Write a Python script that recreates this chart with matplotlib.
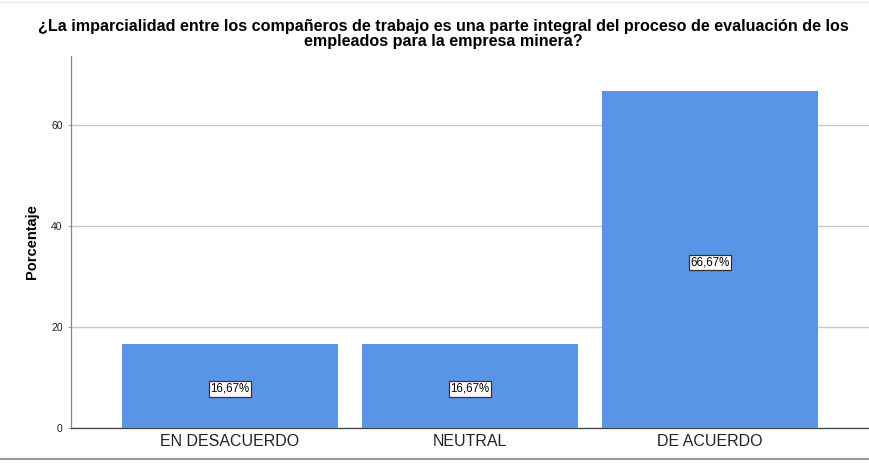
import matplotlib
matplotlib.use("Agg")
import matplotlib.pyplot as plt
from matplotlib.lines import Line2D

plt.rcParams['font.family'] = ['Liberation Sans', 'DejaVu Sans']

# datos del grafico
categorias = ["EN DESACUERDO", "NEUTRAL", "DE ACUERDO"]
porcentajes = [16.67, 16.67, 66.67]
etiquetas = ["16,67%", "16,67%", "66,67%"]
titulo = ("¿La imparcialidad entre los compañeros de trabajo es una parte integral del proceso de evaluación de los\n"
          "empleados para la empresa minera?")

fig = plt.figure(figsize=(8.69, 4.63), dpi=100)
ax = fig.add_axes([71 / 869, 35 / 463, 798 / 869, 372 / 463])

x = list(range(len(categorias)))
ax.bar(x, porcentajes, width=0.9, color="#5895E6", zorder=3)

for xi, v, lab in zip(x, porcentajes, etiquetas):
    ax.text(xi, v / 2 - 0.6, lab, ha="center", va="center", fontsize=8.3, color="black", zorder=4,
            bbox=dict(boxstyle="square,pad=0.15", facecolor="white", edgecolor="#333333", linewidth=0.9))

ax.set_xlim(-0.6625, 2.6625)
ax.set_ylim(0, 73.7)
ax.set_yticks([0, 20, 40, 60])
ax.set_yticklabels(["0", "20", "40", "60"], fontsize=7.5, color="#222222")
ax.set_xticks(x)
ax.set_xticklabels(categorias, fontsize=11.5, color="#222222")
ax.tick_params(axis="x", length=0, pad=4)
ax.tick_params(axis="y", length=2, width=0.6, color="#888888", pad=4)

ax.yaxis.grid(True, color="#c8c8c8", linewidth=1, zorder=0)
ax.set_axisbelow(True)
for s in ["top", "right"]:
    ax.spines[s].set_visible(False)
ax.spines["left"].set_color("#888888")
ax.spines["bottom"].set_color("#444444")
ax.spines["left"].set_linewidth(0.9)
ax.spines["bottom"].set_linewidth(0.9)

ax.set_ylabel("Porcentaje", fontsize=10.5, fontweight="bold", labelpad=9)
fig.text(443 / 869, 1 - 34 / 463, titulo, ha="center", va="center", fontsize=11.6,
         fontweight="bold", linespacing=0.95)

# bordes del marco
fig.add_artist(Line2D([0, 1], [1 - 459 / 463, 1 - 459 / 463], color="#999999", linewidth=1.5))
fig.add_artist(Line2D([0, 1], [1 - 2 / 463, 1 - 2 / 463], color="#eeeeee", linewidth=1))

fig.savefig("out.png", dpi=100)
